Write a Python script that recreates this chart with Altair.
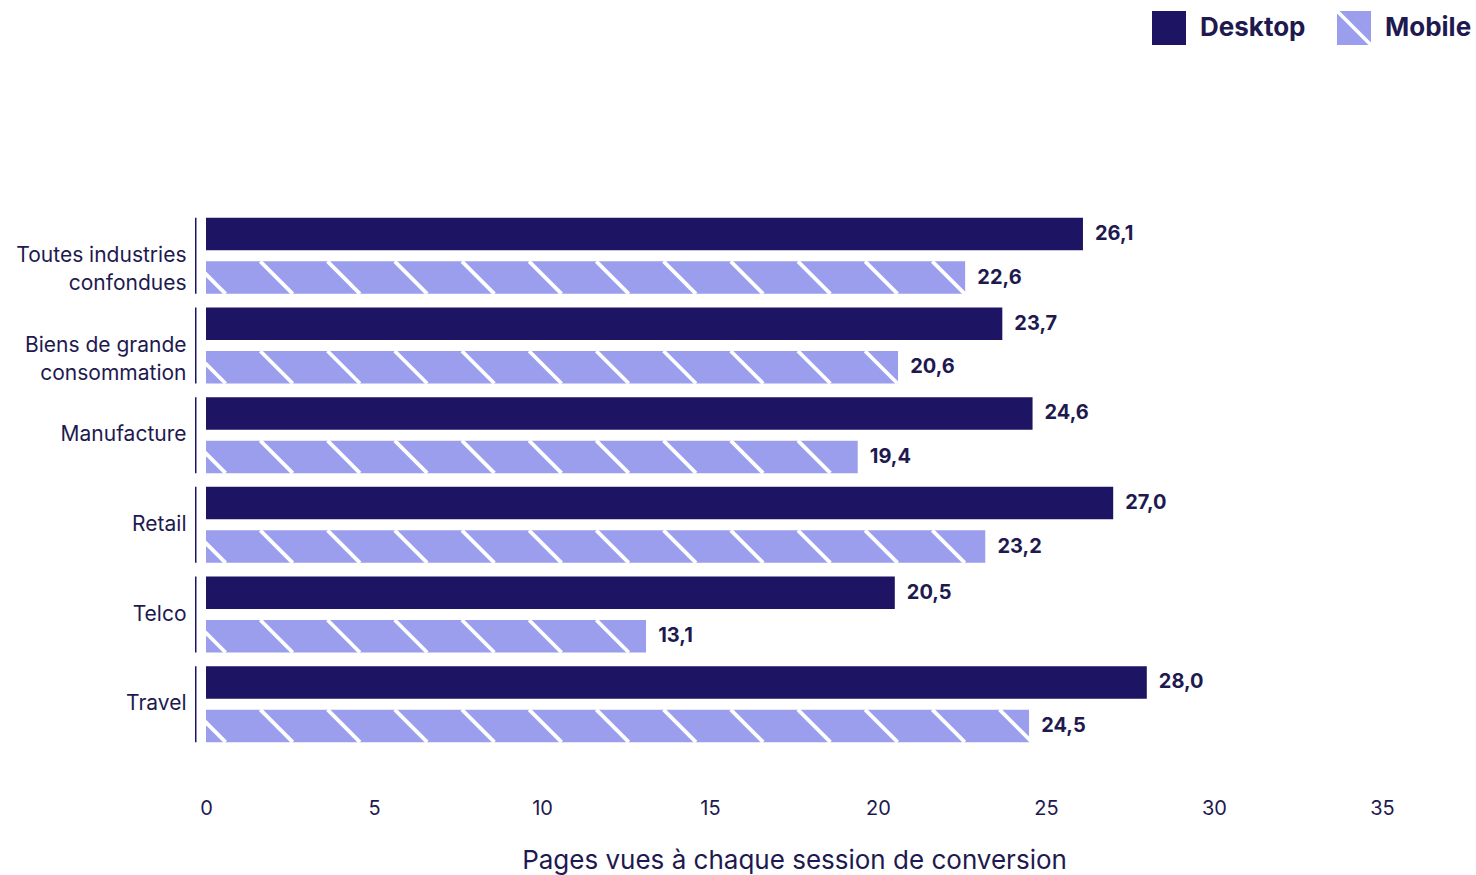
import altair as alt
import pandas as pd

categories = ["Toutes industries\nconfondues", "Biens de grande\nconsommation",
              "Manufacture", "Retail", "Telco", "Travel"]
desktop = [26.1, 23.7, 24.6, 27.0, 20.5, 28.0]
mobile = [22.6, 20.6, 19.4, 23.2, 13.1, 24.5]
series = ["Desktop", "Mobile"]
x_ticks = [0, 5, 10, 15, 20, 25, 30, 35]

NAVY = "#1E1464"
LAV = "#9A9EEC"
TEXT = "#1E1A4F"
FONT = "Inter"

rows = []
for c, d, m in zip(categories, desktop, mobile):
    rows.append({"cat": c, "series": "Desktop", "value": d})
    rows.append({"cat": c, "series": "Mobile", "value": m})
df = pd.DataFrame(rows)

# hatch pattern (style): stripes every STEP units, clipped at bar end by a white cover
STEP = 2.0
PHASE = 0.1
stripe_rows = []
for c, m in zip(categories, mobile):
    k = 0
    while PHASE + k * STEP - 0.6 < m:
        stripe_rows.append({"cat": c, "series": "Mobile", "value": PHASE + k * STEP})
        k += 1
stripes_df = pd.DataFrame(stripe_rows)
legend_df = pd.DataFrame({"series": series})

MOBILE_SYMBOL = "M-0.85,-1L1,-1L1,0.85Z M-1,-0.85L0.85,1L-1,1Z"

x_axis = alt.Axis(values=x_ticks, title="Pages vues à chaque session de conversion",
                  grid=False, domain=False, ticks=False, labelFontSize=20,
                  labelColor=TEXT, labelPadding=49, labelFlush=False, titleFontSize=26,
                  titleColor=TEXT, titleFontWeight="normal", titlePadding=29,
                  labelFont=FONT, titleFont=FONT)
x_scale = alt.Scale(domain=[0, 35], nice=False, zero=True)

y_enc = alt.Y("cat:N", sort=categories,
              scale=alt.Scale(domain=categories, paddingInner=0.153, paddingOuter=0.0765),
              axis=alt.Axis(title="", domain=False, ticks=False,
                            labelExpr="split(datum.label, '\\n')",
                            labelFontSize=21, labelColor=TEXT, labelPadding=20,
                            labelLineHeight=28, labelLimit=400, labelFont=FONT))
yoff_enc = alt.YOffset("series:N", scale=alt.Scale(domain=series, paddingInner=0.253, paddingOuter=0))

color_scale = alt.Scale(domain=series, range=[NAVY, LAV])
legend = alt.Legend(title="", orient="none", legendX=946, legendY=-200,
                    direction="horizontal", symbolSize=1156, labelFontSize=26,
                    labelFontWeight="bold", labelColor=TEXT, labelOffset=14,
                    columnPadding=31, symbolStrokeWidth=0, padding=0, labelFont=FONT)

brackets = alt.Chart(pd.DataFrame({"cat": categories})).mark_bar(color=NAVY).encode(
    x=alt.value(-11), x2=alt.value(-9.5), y=y_enc)

bars_desktop = alt.Chart(df).transform_filter("datum.series == 'Desktop'").mark_bar(color=NAVY).encode(
    x=alt.X("value:Q", scale=x_scale, axis=x_axis),
    y=y_enc, yOffset=yoff_enc)

bars_mobile = alt.Chart(df).transform_filter("datum.series == 'Mobile'").mark_bar(color=LAV).encode(
    x=alt.X("value:Q", scale=x_scale, axis=x_axis),
    y=y_enc, yOffset=yoff_enc)

stripes = alt.Chart(stripes_df).mark_point(
    shape="M-1,-1L1,1", color="white", strokeWidth=3.8, size=1056,
    filled=False, opacity=1, clip=True).encode(
    x=alt.X("value:Q", scale=x_scale, axis=x_axis),
    y=y_enc, yOffset=yoff_enc)

cover = alt.Chart(df).transform_filter("datum.series == 'Mobile'").transform_calculate(
    value_end="datum.value + 1.5").mark_bar(color="white", clip=True).encode(
    x=alt.X("value:Q", scale=x_scale, axis=x_axis), x2="value_end:Q",
    y=y_enc, yOffset=yoff_enc)

labels = alt.Chart(df).transform_calculate(
    label="replace(format(datum.value, '.1f'), '.', ',')").mark_text(
    align="left", baseline="middle", dx=12, fontSize=20, fontWeight="bold",
    color=TEXT, font=FONT).encode(
    x=alt.X("value:Q", scale=x_scale, axis=x_axis),
    y=y_enc, yOffset=yoff_enc, text="label:N")

legend_pts = alt.Chart(legend_df).mark_point(filled=True, opacity=1, size=1156, clip=True).encode(
    x=alt.value(-3000), y=alt.value(-3000),
    color=alt.Color("series:N", scale=color_scale, legend=legend),
    shape=alt.Shape("series:N", scale=alt.Scale(domain=series, range=["square", MOBILE_SYMBOL]),
                    legend=legend))

chart = alt.layer(brackets, bars_desktop, bars_mobile, stripes, cover, labels, legend_pts).properties(
    width=1176, height=538,
    autosize=alt.AutoSizeParams(type="none"),
    padding={"left": 206, "top": 211, "right": 94, "bottom": 126},
).configure(font=FONT).configure_view(strokeWidth=0, stroke="transparent")

chart.save("out.html", embed_options={"renderer": "svg", "actions": False})
